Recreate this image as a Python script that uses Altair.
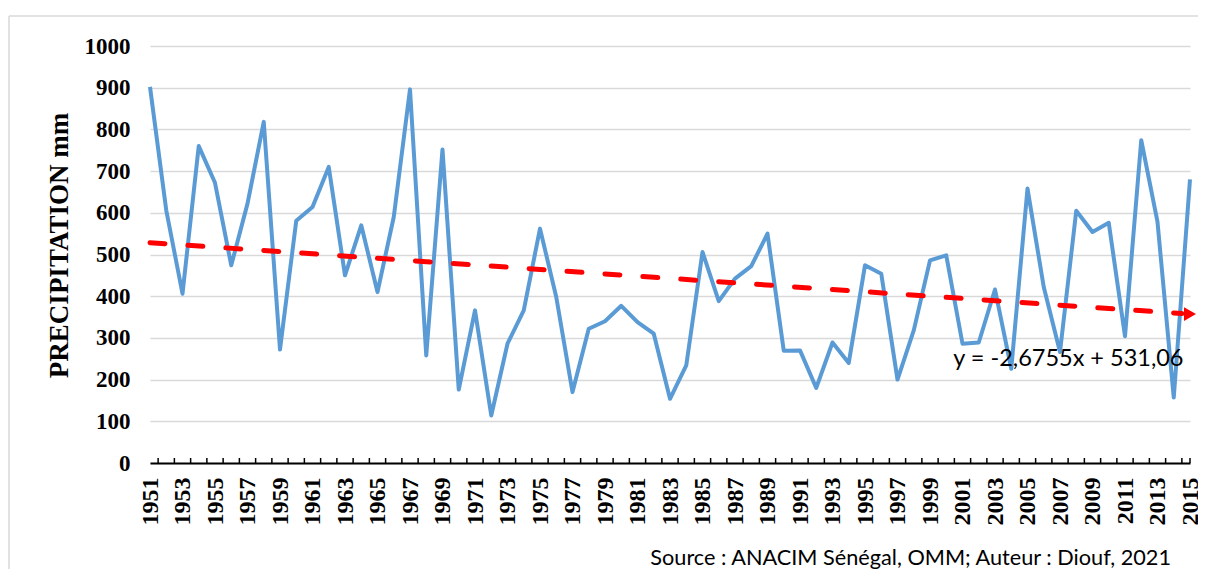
import altair as alt
import pandas as pd

years = list(range(1951, 2016))
precip = [902, 606, 406, 760, 672, 474, 622, 818, 272, 581,
          614, 710, 450, 570, 410, 590, 896, 258, 752, 176,
          366, 114, 286, 366, 562, 398, 170, 322, 340, 377,
          338, 310, 154, 234, 506, 388, 442, 472, 550, 269,
          270, 180, 289, 240, 474, 454, 200, 318, 486, 498,
          286, 289, 416, 226, 658, 422, 266, 605, 554, 576,
          304, 774, 578, 157, 680]
x_labels = list(range(1951, 2016, 2))
y_ticks = list(range(0, 1001, 100))
slope = -2.6755
intercept = 531.06
equation = "y = -2,6755x + 531,06"
source = "Source : ANACIM Sénégal, OMM; Auteur : Diouf, 2021"

W, H = 1040, 417
SERIF = "Liberation Serif"
SANS = "Lato"

df = pd.DataFrame({"year": years, "p": precip})
n = len(years)
trend = pd.DataFrame({
    "year": [years[0], years[-1] - 0.5],
    "p": [slope * 1 + intercept, slope * (n - 0.5) + intercept],
})
arrow = pd.DataFrame({"year": [years[-1]], "p": [slope * n + intercept]})
ticks = pd.DataFrame({"t": [y + 0.5 for y in years[:-1]] + [years[-1]]})
eq_df = pd.DataFrame({"year": [2014.6], "p": [249], "label": [equation]})
src_df = pd.DataFrame({"label": [source]})

xs = alt.Scale(domain=[years[0], years[-1]], nice=False, zero=False)
ys = alt.Scale(domain=[0, 1000], nice=False)

ax_x = alt.Axis(values=x_labels, format="d", title=None, grid=False,
                ticks=False, labelAngle=-90, labelPadding=14,
                labelFont=SERIF, labelFontWeight="bold", labelFontSize=24,
                labelColor="black", domainColor="black", domainWidth=2,
                labelOverlap=False, labelFlush=False)
ax_y = alt.Axis(values=y_ticks, format="d", title="PRECIPITATION mm", grid=True,
                gridColor="#D9D9D9", gridWidth=1.5, domain=False, ticks=False,
                labelPadding=20, labelFont=SERIF, labelFontWeight="bold",
                labelFontSize=23, labelColor="black",
                titleFont=SERIF, titleFontWeight="bold", titleFontSize=27,
                titleColor="black", titlePadding=11, titleY=199)

bx = alt.X("year:Q", scale=xs, axis=ax_x)
by = alt.Y("p:Q", scale=ys, axis=ax_y)

line = alt.Chart(df).mark_line(color="#5B9BD5", strokeWidth=4, strokeJoin="round").encode(
    x=bx, y=by)

trend_line = alt.Chart(trend).mark_line(color="#FF0000", strokeWidth=5, strokeDash=[15, 23],
                                        strokeCap="round").encode(x=bx, y=by)

arrow_pt = alt.Chart(arrow).mark_point(shape="triangle-right", filled=True, color="#FF0000",
                                       size=190, opacity=1, dx=-7).encode(x=bx, y=by)

tick_marks = alt.Chart(ticks).mark_rule(color="black", strokeWidth=1.5).encode(
    x=alt.X("t:Q", scale=xs, axis=ax_x), y=alt.value(H), y2=alt.value(H - 5))

eq_text = alt.Chart(eq_df).mark_text(align="right", baseline="middle", font=SANS,
                                     fontSize=23.5, color="black").encode(
    x=bx, y=by, text="label:N")

src_text = alt.Chart(src_df).mark_text(align="right", baseline="alphabetic", font=SANS,
                                       fontSize=21.7, color="black").encode(
    x=alt.value(1021), y=alt.value(519), text="label:N")

frame_color = "#D9D9D9"
frame_l = alt.Chart(src_df).mark_rule(color=frame_color, strokeWidth=1.5).encode(
    x=alt.value(-141), y=alt.value(-30), y2=alt.value(540))
frame_r = alt.Chart(src_df).mark_rule(color=frame_color, strokeWidth=1.5).encode(
    x=alt.value(1051), y=alt.value(-30), y2=alt.value(540))
frame_t = alt.Chart(src_df).mark_rule(color=frame_color, strokeWidth=1.5).encode(
    x=alt.value(-141), x2=alt.value(1051), y=alt.value(-30))

chart = alt.layer(line, frame_l, frame_r, frame_t, trend_line, arrow_pt, tick_marks,
                  eq_text, src_text).properties(
    width=W, height=H,
    autosize=alt.AutoSizeParams(type="none"),
    padding={"left": 142, "top": 38, "right": 8, "bottom": 106},
    background="white",
).configure_view(stroke=None).configure_axisX(labelOverlap=False)

chart.save("out.html", embed_options={"renderer": "svg", "actions": False})
